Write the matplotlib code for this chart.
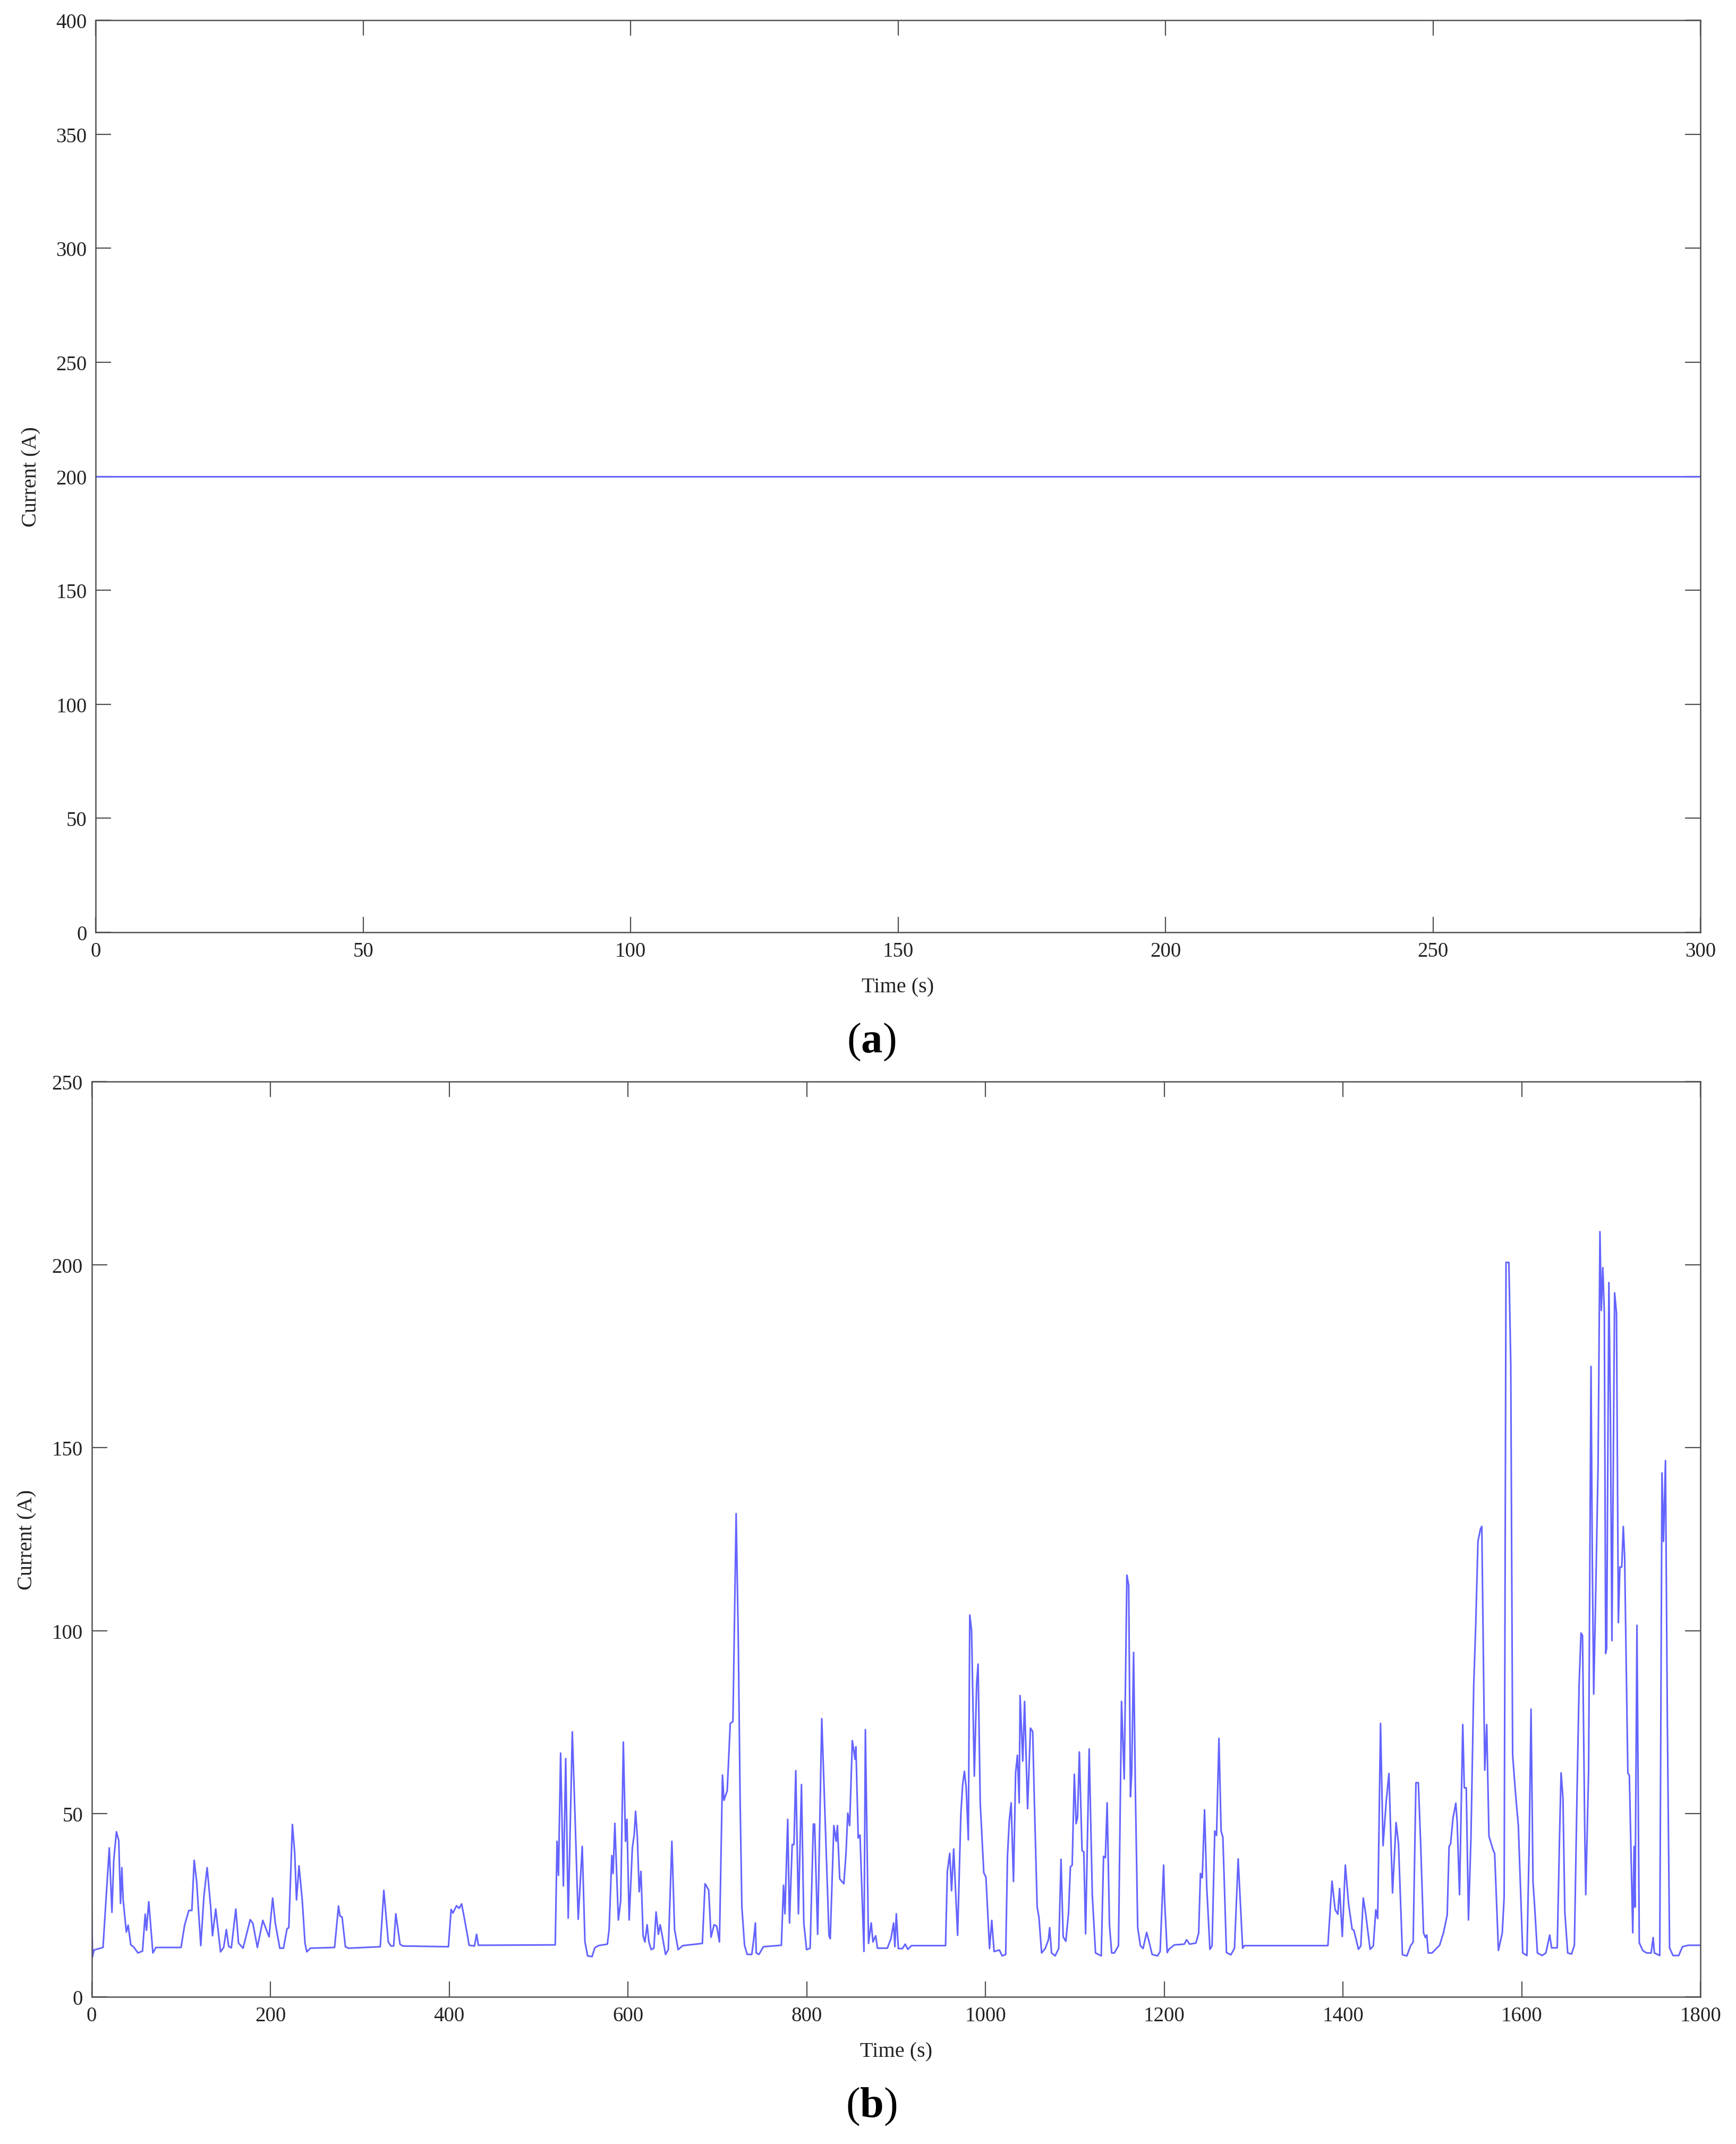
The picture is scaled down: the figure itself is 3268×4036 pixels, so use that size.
import matplotlib
matplotlib.use("Agg")
import matplotlib.pyplot as plt

# (a) constant current test
time_a = [0, 300]
current_a = [200, 200]

# (b) drive-cycle current profile
time_b = [
    # 0 - 290 s
    0, 1, 2.6, 12.7, 19.7, 22.7, 24.7, 27.7, 30.3, 32.3,
    33.8, 35.2, 38.8, 40.8, 43.8, 46.8, 51.8, 56.9, 59.9, 61.3,
    63.9, 68.5, 71.9, 100, 104, 108.7, 112.1, 114.7, 117.5, 122.1,
    125.6, 129.2, 133.2, 135.2, 138.8, 144.2, 147.7, 150.7, 153.3, 156.3,
    161.3, 164.3, 169.4, 177.4, 180.4, 185.4, 191.5, 198.5, 202.5, 205.5,
    210.5, 214.6, 218.6, 220.6, 224.6, 227.2, 229.2, 232, 235.6, 238.7,
    240.7, 244.7, 271.8, 276.2, 277.8, 280.2, 283.9, 287.5,
    # 290 - 585 s
    322.9, 326.9, 331.9, 334.9, 337.9, 340.3, 345, 348, 399.2, 402.2,
    404.2, 408.2, 411.2, 413.9, 416.3, 419.9, 422.3, 428.3, 430.7, 432.7,
    518.7, 520.7, 522.3, 524.7, 527.8, 530.4, 533.2, 537.8, 540.8, 544.4,
    548.9, 551.9, 554.9, 559.9, 562.9, 566.9, 577, 579, 582, 583.4,
    585.4,
    # 585 - 900 s
    589.3, 591.9, 594.9, 597.3, 598.9, 601.4, 605, 607, 608.6, 610.6,
    612.6, 614.6, 617, 619, 621.5, 623.5, 626.1, 629.1, 631.5, 634.1,
    636.1, 638.7, 642.1, 645.2, 649.2, 652.2, 656.2, 661.2, 683.3, 686.3,
    690.4, 693, 696.4, 699.4, 702.4, 705.8, 707.4, 711.1, 714.5, 717.5,
    721.1, 723.5, 725.5, 727.5, 730.5, 733.5, 738.6, 740.6, 742.6, 743.6,
    746.6, 751.6, 771.7, 774.1, 775.7, 778.8, 780.8, 783.8, 785.8, 787.8,
    790.8, 794.2, 796.8, 799.9, 803.9, 807.5, 808.9, 812.3, 816.9, 821,
    825, 826.4, 830.4, 833, 834.4, 837, 841.6, 844, 846, 848.1,
    851.1, 854.1, 855.1, 857.7, 859.7, 864.1, 865.7, 869.2, 872.2, 874.2,
    877.2, 879.2, 890.3, 894.3, 897.3, 898.7, 900.3,
    # 900 - 1196 s
    902.6, 907.2, 910.2, 913.2, 917.3, 955.4, 957.4, 960.1, 962.1, 964.5,
    968.9, 972.5, 974.5, 976.5, 978.5, 980.9, 982.5, 984.5, 987.6, 990.2,
    991.8, 994.2, 998.2, 1000.6, 1004.6, 1007.1, 1009.7, 1015.7, 1018.7, 1022.7,
    1024.7, 1026.7, 1028.8, 1031.4, 1033.8, 1035.8, 1037.8, 1038.8, 1041.8, 1043.8,
    1047.2, 1050.4, 1052.9, 1054.9, 1057.9, 1059.9, 1062.9, 1066.9, 1070.5, 1071.9,
    1074, 1078, 1082, 1084.6, 1087, 1090, 1093, 1095.1, 1097.1, 1099.5,
    1101.5, 1103.1, 1105.1, 1108.1, 1110.1, 1112.1, 1116.1, 1119.6, 1123.2, 1129.6,
    1132.2, 1134.2, 1136.2, 1138.8, 1141.3, 1144.3, 1148.9, 1152.3, 1155.3, 1158.3,
    1160.3, 1162.3, 1163.7, 1165.8, 1167.8, 1170.4, 1173.4, 1176.4, 1180.4, 1183.4,
    1186.5, 1192.5, 1195.5,
    # 1196 - 1476 s
    1199.4, 1200.4, 1203.4, 1205.4, 1211.4, 1222.5, 1225.1, 1228.5, 1235.5, 1238.6,
    1240.6, 1242.6, 1245.2, 1247.6, 1251.2, 1253.6, 1256.6, 1258.6, 1261.3, 1263.7,
    1265.7, 1269.7, 1274.7, 1278.7, 1282.8, 1287.8, 1289.8, 1383.2, 1387.8, 1391.3,
    1394.3, 1396.3, 1399.3, 1402.7, 1406.3, 1410.3, 1412.3, 1417.4, 1420, 1422.8,
    1425.4, 1430.4, 1434, 1436.8, 1438.9, 1442.1, 1444.9, 1448.5, 1451.5, 1455.5,
    1459.5, 1462.2, 1466.6, 1471.6, 1475.6,
    # 1476 - 1800 s
    1478.6, 1481.7, 1484.4, 1487, 1490.2, 1492.3, 1493.8, 1495.5, 1499.7, 1508.2,
    1512.5, 1516.7, 1518.8, 1520.5, 1523.1, 1526.3, 1527.8, 1530.5, 1534.1, 1535.8,
    1538, 1540.5, 1543.3, 1546.4, 1548.6, 1551.1, 1553.9, 1555.4, 1558.7, 1560.9,
    1563.4, 1567.7, 1569.8, 1574, 1578.3, 1580.4, 1582.5, 1585.7, 1587.8, 1589.9,
    1593.1, 1596.3, 1601.2, 1605.9, 1608.4, 1610.5, 1612.7, 1614.4, 1617.6, 1622.9,
    1627.1, 1631.4, 1633.5, 1639.8, 1642.4, 1644.1, 1646.2, 1648.3, 1651.5, 1655.8,
    1659, 1662.1, 1664.3, 1666.4, 1668.1, 1670.6, 1671.7, 1674.9, 1677.6, 1679.1,
    1680.6, 1683.4, 1685.5, 1687.6, 1689.1, 1690.8, 1692.5, 1694, 1695.1, 1697.6,
    1699.3, 1701, 1704, 1706.1, 1708.2, 1709.9, 1712, 1713.7, 1715.2, 1718.8,
    1720.5, 1724.3, 1725.8, 1726.9, 1729, 1731.6, 1735.4, 1739.6, 1744.9, 1747.1,
    1748.5, 1754.5, 1757, 1758.7, 1760.9, 1763, 1765.5, 1769.3, 1775.7, 1779.9,
    1786.3, 1800,
]

current_b = [
    # 0 - 290 s
    24, 11, 12.8, 13.5, 40.7, 23.1, 37.3, 45.1, 42.7, 25.5,
    35.3, 26.5, 17.7, 19.6, 14.2, 13.7, 12.0, 12.5, 22.6, 18.2,
    26.0, 12.0, 13.5, 13.5, 19.6, 23.6, 23.6, 37.3, 31.4, 14.0,
    27.5, 35.3, 24.5, 16.7, 24.0, 12.3, 13.5, 18.4, 13.8, 13.4,
    24.0, 14.7, 13.3, 21.1, 20.1, 13.5, 20.9, 16.4, 27.0, 20.1,
    13.3, 13.3, 18.6, 18.9, 47.1, 39.2, 26.5, 35.8, 26.5, 14.7,
    12.3, 13.3, 13.5, 24.8, 22.1, 21.8, 13.7, 13.3,
    # 290 - 585 s
    13.7, 29.1, 15, 13.9, 13.9, 22.7, 14.4, 13.9, 13.7, 23.9,
    22.9, 24.9, 24.2, 25.4, 22.4, 17.6, 14.1, 13.9, 17.1, 14.1,
    14.2, 42.5, 33.2, 66.6, 30.3, 65.1, 21.5, 72.4, 49.4, 21.2,
    41.1, 15.1, 11.2, 11.0, 13.4, 14.0, 14.4, 18.5, 38.6, 33.7,
    47.4,
    # 585 - 900 s
    21, 26.2, 69.6, 42.5, 48.5, 21, 40.8, 44.2, 50.7, 43.4,
    28.7, 34.3, 16.7, 15, 19.7, 15, 12.9, 13.3, 23.2, 17.1,
    19.7, 16.3, 11.6, 12.9, 42.5, 18.4, 12.9, 14, 14.6, 30.9,
    29.2, 16.3, 19.7, 19.3, 15, 60.6, 53.7, 56.3, 74.7, 75.2,
    132, 97.5, 54.5, 24.5, 14.1, 11.6, 11.6, 15.4, 20.2, 12,
    11.6, 13.7, 14.1, 30.5, 22.7, 48.5, 20.2, 41.6, 41.6, 61.8,
    22.7, 58, 20.2, 12.9, 13.3, 47.2, 47.2, 17.1, 76, 45.9,
    16.7, 15.9, 46.8, 42.5, 46.8, 32.2, 30.9, 39.1, 50.2, 46.8,
    70, 64.9, 68.3, 43.4, 44.2, 12.4, 73, 14.6, 20.2, 15,
    16.7, 13.3, 13.3, 15.9, 20.2, 13.7, 22.7,
    # 900 - 1196 s
    13.2, 13.2, 14.4, 13, 14, 14, 34.3, 39.2, 29, 40.4,
    16.8, 49.8, 57.9, 61.6, 57.1, 42.9, 104.3, 100.2, 60.3, 85.6,
    90.9, 53, 33.9, 32.7, 13.2, 20.9, 12.4, 12.8, 11.2, 11.6,
    38.4, 48.1, 53, 31.5, 61.2, 66, 53, 82.3, 64.4, 80.7,
    51.4, 73.4, 72.5, 52.2, 24.6, 21.7, 12, 13.2, 15.6, 18.9,
    12, 11.2, 13.2, 37.6, 16.4, 15.2, 22.9, 35.5, 36, 60.8,
    47.3, 49, 66.9, 40, 39.6, 17.2, 67.7, 27.8, 12, 11.2,
    38.4, 38, 53, 19.7, 12, 12, 14, 80.7, 59.5, 115.2,
    112.4, 54.7, 61.2, 94.1, 56.3, 18.9, 14, 13.2, 17.6, 14.8,
    11.6, 11.2, 12.4,
    # 1196 - 1476 s
    36, 26.7, 12.1, 13, 14.2, 14.4, 15.6, 14.4, 14.7, 17.4,
    33.7, 32.5, 51.1, 30.2, 13, 13.9, 45.3, 44.1, 70.6, 45.3,
    43.6, 12.1, 11.5, 13.3, 37.7, 13.3, 14, 14, 31.6, 23.8,
    22.6, 29.6, 16.5, 36, 25.5, 18.5, 18.2, 13, 13.9, 27,
    22.9, 13, 13.9, 23.8, 21.4, 74.7, 41.3, 53.5, 61, 28.4,
    47.6, 41.8, 11.5, 11.2, 13.9,
    # 1476 - 1800 s
    15, 58.5, 58.5, 41.8, 17.5, 16.2, 16.9, 12, 12, 14.1,
    17.5, 22.4, 41.1, 41.8, 48.7, 52.9, 48, 27.9, 74.4, 57.1,
    57.1, 21, 43.9, 85.5, 101.5, 124.4, 127.8, 128.5, 61.9, 74.4,
    43.9, 40.4, 39.1, 12.7, 17.5, 27.3, 200.6, 200.6, 172.9, 66.1,
    55.7, 46.7, 12, 11.3, 41.8, 78.6, 31.4, 25.2, 12, 11.3,
    12, 16.9, 13.4, 13.4, 43.9, 61.2, 54.3, 23.1, 12, 11.7,
    14.1, 57.8, 85.5, 99.4, 98.7, 45.3, 27.9, 61.9, 172.2, 117.4,
    82.7, 117.4, 145.2, 209, 187.5, 199.2, 186.8, 93.8, 95.2, 195.1,
    159, 97.3, 192.3, 186.8, 102.2, 117.4, 117.4, 128.5, 120.2, 61.2,
    60.5, 17.5, 41.1, 24.5, 101.5, 14.8, 12.7, 12, 12, 16.2,
    12, 11.3, 143.1, 124.4, 146.5, 75.8, 13.4, 11.3, 11.3, 13.7,
    14.1, 14.1,
]

xticks_a = list(range(0, 301, 50))
yticks_a = list(range(0, 401, 50))
xticks_b = list(range(0, 1801, 200))
yticks_b = list(range(0, 251, 50))

plt.rcParams['font.family'] = ['Liberation Serif', 'DejaVu Serif']
plt.rcParams['mathtext.fontset'] = 'custom'
plt.rcParams['mathtext.rm'] = 'Liberation Serif'
plt.rcParams['mathtext.bf'] = 'Liberation Serif:bold'

line_color = '#6464ff'
axis_color = '#505050'

fig = plt.figure(figsize=(32.68, 40.37), dpi=100)
ax_a = fig.add_axes([0.0551, 0.565, 0.9244, 0.4253])
ax_b = fig.add_axes([0.0528, 0.0686, 0.9267, 0.4268])


def style(ax, xt, yt, xmax, ymax):
    ax.set_xlim(0, xmax)
    ax.set_ylim(0, ymax)
    ax.set_xticks(xt)
    ax.set_yticks(yt)
    ax.tick_params(direction='in', top=True, right=True, length=21,
                   width=1.6, color=axis_color, labelsize=28, pad=12,
                   labelcolor='#222222')
    for sp in ax.spines.values():
        sp.set_color(axis_color)
        sp.set_linewidth(1.8)
    ax.set_xlabel('Time (s)', fontsize=29, color='#222222')
    ax.set_ylabel('Current (A)', fontsize=29, color='#222222')
    ax.xaxis.set_label_coords(0.5, -0.049)
    ax.yaxis.set_label_coords(-0.034, 0.5)


ax_a.plot(time_a, current_a, color=line_color, lw=2.2)
style(ax_a, xticks_a, yticks_a, 300, 400)

ax_b.plot(time_b, current_b, color=line_color, lw=2.2)
style(ax_b, xticks_b, yticks_b, 1800, 250)

fig.text(0.502, 0.514, r'($\mathbf{a}$)', fontsize=58, ha='center', va='center')
fig.text(0.502, 0.0176, r'($\mathbf{b}$)', fontsize=58, ha='center', va='center')

fig.savefig('out.png', dpi=100, facecolor='white')
